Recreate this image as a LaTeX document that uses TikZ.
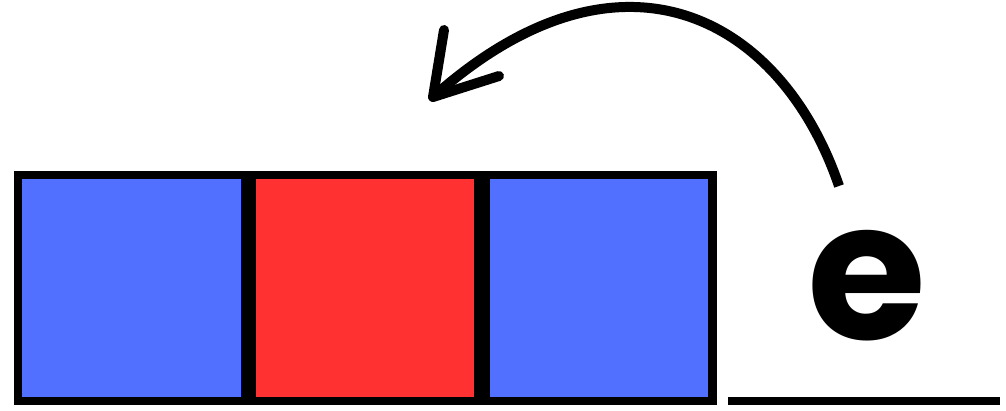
\documentclass[tikz,border=0pt]{standalone}
\usepackage{fontspec}
\newfontfamily\pop{Poppins Bold}
\definecolor{cblue}{HTML}{5170FF}
\definecolor{cred}{HTML}{FF3131}
\begin{document}
\begin{tikzpicture}[x=1pt,y=-1pt,
  cell/.style={rectangle,draw=none,minimum width=219pt,minimum height=218pt,inner sep=0pt,anchor=north west},
  stroke/.style={line width=10pt,line cap=round,line join=round}]
\useasboundingbox (0,0) rectangle (1006,410);
\fill[black] (14,171) rectangle (717,405);
\node[cell,fill=cblue] (c1) at (22,179) {};
\node[cell,fill=cred,minimum width=218pt] (c2) at (256,179) {};
\node[cell,fill=cblue,minimum width=218pt] (c3) at (490,179) {};
\node[inner sep=0pt] (e) at (867,286) {\pop\fontsize{193}{193}\selectfont e};
\coordinate (ul1) at (728,401);
\coordinate (ul2) at (1000,401);
\draw[line width=8pt] (ul1) -- (ul2);
\coordinate (tail) at (839,186);
\coordinate (tip) at (433,97);
\coordinate (h1) at (444,30);
\coordinate (h2) at (499,76);
\draw[stroke,line cap=butt] (tail) .. controls (781,16) and (620,-70) .. (tip);
\draw[stroke] (h1) -- (tip) -- (h2);
\end{tikzpicture}
\end{document}
